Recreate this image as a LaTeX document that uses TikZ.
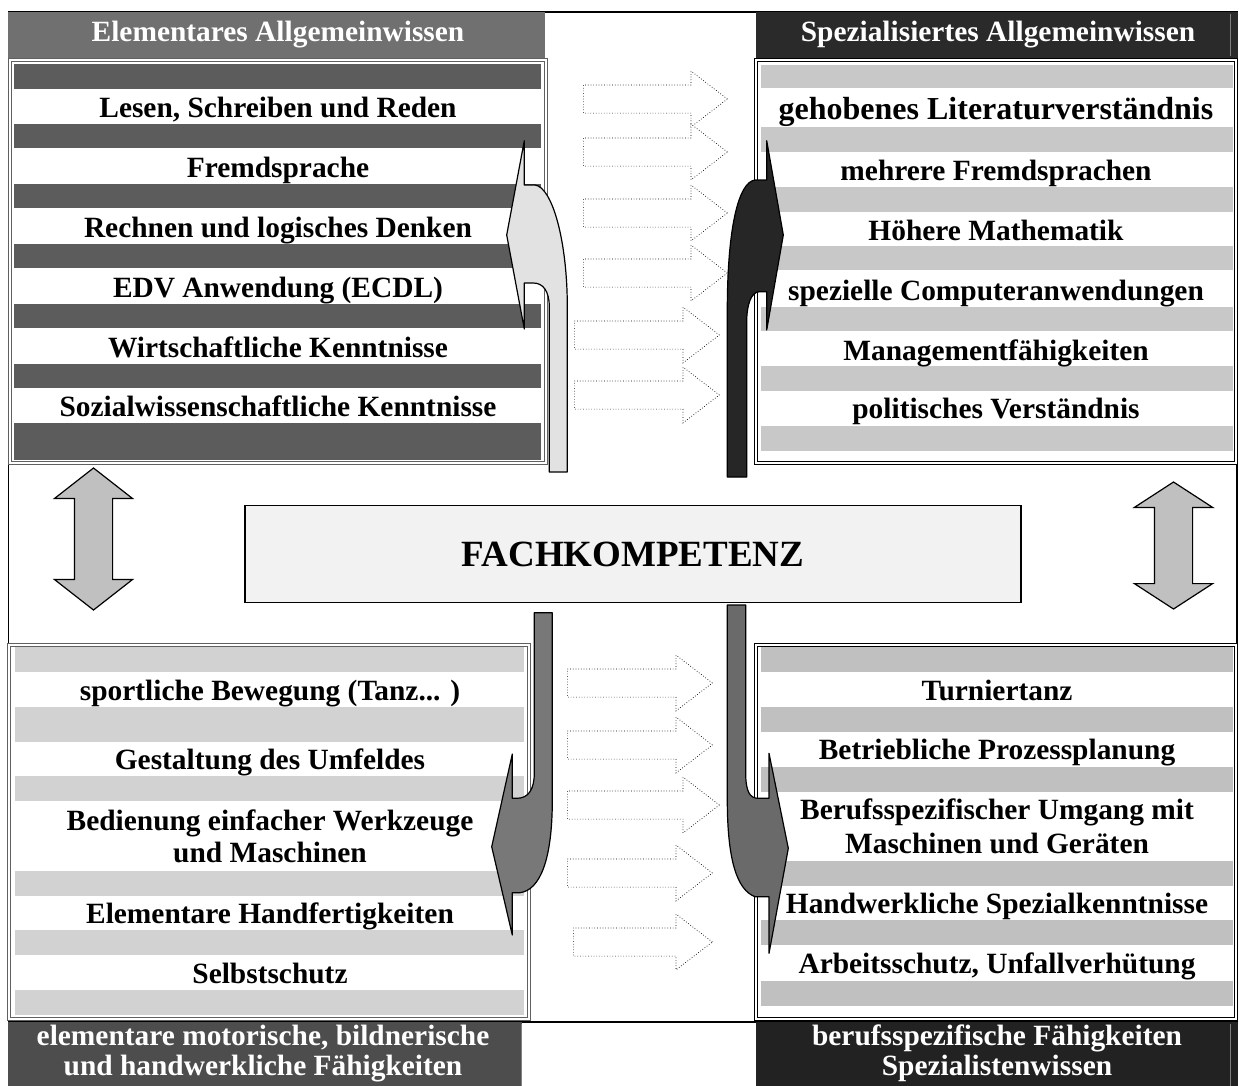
\documentclass[tikz,border=0pt]{standalone}
\usepackage{fontspec}
\setmainfont{Liberation Serif}
\usepackage{tikz}
\usetikzlibrary{shapes.arrows}

\definecolor{hdrTL}{HTML}{707070}
\definecolor{hdrTR}{HTML}{2A2A2A}
\definecolor{ftrBL}{HTML}{4D4D4D}
\definecolor{ftrBR}{HTML}{222222}
\definecolor{stripeTL}{HTML}{5C5C5C}
\definecolor{stripeTR}{HTML}{C8C8C8}
\definecolor{stripeBL}{HTML}{D2D2D2}
\definecolor{stripeBR}{HTML}{C0C0C0}
\definecolor{arrLight}{HTML}{E2E2E2}
\definecolor{arrDark}{HTML}{262626}
\definecolor{arrBL}{HTML}{787878}
\definecolor{arrBR}{HTML}{6A6A6A}
\definecolor{fkFill}{HTML}{F2F2F2}
\definecolor{udFill}{HTML}{C0C0C0}
\definecolor{boxGray}{HTML}{606060}

\begin{document}
\begin{tikzpicture}[x=1pt,y=-1pt,
    item/.style={anchor=base,font=\fontsize{29.4}{32}\selectfont\bfseries},
    head/.style={item,text=white},
    dblbox/.style={double=white,double distance=2.5pt,line width=0.9pt},
    dotarr/.style={single arrow,draw=black,dotted,line width=0.7pt,
                   fill=white,inner xsep=0pt,inner ysep=13.75pt,anchor=tail,
                   single arrow head extend=13.75pt,single arrow tip angle=75},
    updown/.style={double arrow,draw,line width=1.2pt,fill=udFill,rotate=90,
                   inner xsep=0pt,inner ysep=18.5pt,double arrow head extend=20pt},
    bentarr/.style={draw,line width=1.2pt,line join=round}]
  \useasboundingbox (0,0) rectangle (1239,1085);
  % outer frame
  \draw[line width=1.5pt] (8.5,12) rectangle (1237,1022);
  % headers and footers
  \fill[hdrTL] (8,12) rectangle (545,58);
  \node[head] (hTL) at (278,41) {Elementares Allgemeinwissen};
  \fill[hdrTR] (756,12) rectangle (1238,58);
  \draw[gray,thin] (1230,14) -- (1230,56);
  \node[head] (hTR) at (998,41) {Spezialisiertes Allgemeinwissen};
  \fill[ftrBL] (8,1022) rectangle (522,1090);
  \draw[gray,thin] (521,1024) -- (521,1090);
  \node[head] (fBL1) at (263,1045) {elementare motorische, bildnerische};
  \node[head] (fBL2) at (263,1075) {und handwerkliche Fähigkeiten};
  \fill[ftrBR] (756,1022) rectangle (1238,1090);
  \draw[gray,thin] (1230,1024) -- (1230,1090);
  \node[head] (fBR1) at (997,1045) {berufsspezifische Fähigkeiten};
  \node[head] (fBR2) at (997,1075) {Spezialistenwissen};

  % top left list
  \fill[white] (8,58) rectangle (548,465);
  \foreach \a/\b in {64/88.5,123.5/148,183.5/208,243.5/268,303.5/328,363.5/388,423/460}
    \fill[stripeTL] (14,\a) rectangle (541,\b);
  \draw[dblbox,draw=boxGray] (10,60) rectangle (546,463);
  \node[item] (tl1) at (278,117) {Lesen, Schreiben und Reden};
  \node[item] (tl2) at (278,177) {Fremdsprache};
  \node[item] (tl3) at (278,237) {Rechnen und logisches Denken};
  \node[item] (tl4) at (278,297) {EDV Anwendung (ECDL)};
  \node[item] (tl5) at (278,357) {Wirtschaftliche Kenntnisse};
  \node[item] (tl6) at (278,416) {Sozialwissenschaftliche Kenntnisse};

  % top right list
  \fill[white] (754,58) rectangle (1238,465);
  \foreach \a/\b in {65/88,127/152,187/212,246/270,307/331,366/391,426/451}
    \fill[stripeTR] (761,\a) rectangle (1233,\b);
  \draw[dblbox] (756,60) rectangle (1236,463);
  \node[item,font=\fontsize{32}{34}\selectfont\bfseries] (tr1) at (996,119.5) {gehobenes Literaturverständnis};
  \node[item] (tr2) at (996,180) {mehrere Fremdsprachen};
  \node[item] (tr3) at (996,240) {Höhere Mathematik};
  \node[item] (tr4) at (996,300) {spezielle Computeranwendungen};
  \node[item] (tr5) at (996,360) {Managementfähigkeiten};
  \node[item] (tr6) at (996,418) {politisches Verständnis};

  % bottom left list
  \fill[white] (7,643) rectangle (531,1021);
  \foreach \a/\b in {647/672,707/742,776/801,871/896,930/955,990/1015}
    \fill[stripeBL] (15,\a) rectangle (524,\b);
  \draw[dblbox,draw=boxGray] (9,645) rectangle (529,1019);
  \node[item] (bl1) at (270,700) {sportliche Bewegung (Tanz... )};
  \node[item] (bl2) at (270,769) {Gestaltung des Umfeldes};
  \node[item] (bl3) at (270,830) {Bedienung einfacher Werkzeuge};
  \node[item] (bl3b) at (270,862) {und Maschinen};
  \node[item] (bl4) at (270,923) {Elementare Handfertigkeiten};
  \node[item] (bl5) at (270,983) {Selbstschutz};

  % bottom right list
  \fill[white] (754,643) rectangle (1238,1021);
  \foreach \a/\b in {647/672,707/732,767/792,861/886,920/945,981/1006}
    \fill[stripeBR] (761,\a) rectangle (1233,\b);
  \draw[dblbox] (756,645) rectangle (1236,1019);
  \node[item] (br1) at (997,700) {Turniertanz};
  \node[item] (br2) at (997,759) {Betriebliche Prozessplanung};
  \node[item] (br3) at (997,819) {Berufsspezifischer Umgang mit};
  \node[item] (br3b) at (997,853) {Maschinen und Geräten};
  \node[item] (br4) at (997,913) {Handwerkliche Spezialkenntnisse};
  \node[item] (br5) at (997,973) {Arbeitsschutz, Unfallverhütung};

  % dotted transfer arrows
  \foreach \yy/\xx/\len [count=\i] in {99/583/144,152/583/144,213/583/144,273/583/144,335/574/145,395/574/145}
    \node[dotarr,minimum height=\len pt] (ta\i) at (\xx,\yy) {};
  \foreach \yy/\xx/\len [count=\i] in {683/567/145,745/567/145,805/567/152,873/567/145,942/573/139}
    \node[dotarr,minimum height=\len pt] (ba\i) at (\xx,\yy) {};

  % bent arrows
  \path[bentarr,fill=arrLight] (549.3,472) -- (549.3,307)
        .. controls (549.3,291) and (543,283) .. (533.3,283) -- (524.3,283)
        -- (524.3,329) -- (506.7,235) -- (524.3,140.7) -- (524.3,185) -- (535,185)
        .. controls (552,187) and (567.3,240) .. (567.3,307) -- (567.3,472) -- cycle;
  \path[bentarr,fill=arrDark] (727.3,477) -- (727.3,310)
        .. controls (727.3,230) and (738,182) .. (755,180) -- (766.7,180)
        -- (766.7,140.7) -- (783.3,235) -- (766.7,330) -- (766.7,291.7) -- (759.3,291.7)
        .. controls (751,292) and (746.7,305) .. (746.7,322) -- (746.7,477) -- cycle;
  \path[bentarr,fill=arrBL] (534.3,612.7) -- (534.3,773)
        .. controls (534.3,790) and (528,798.3) .. (516.7,798.3) -- (512.3,798.3)
        -- (512.3,754) -- (491.7,846.7) -- (512.3,935) -- (512.3,892.7) -- (520,892.7)
        .. controls (540,890) and (552.3,860) .. (552.3,800) -- (552.3,612.7) -- cycle;
  \path[bentarr,fill=arrBR] (727.3,605) -- (745.7,605) -- (745.7,773)
        .. controls (745.7,792) and (750,798.3) .. (758.3,798.3) -- (769,798.3)
        -- (769,753.3) -- (788.3,848.3) -- (769,953.3) -- (769,896.7) -- (755,896.7)
        .. controls (737,890) and (727.3,860) .. (727.3,800) -- cycle;

  % centre
  \node[draw,line width=1.5pt,fill=fkFill,minimum width=776pt,minimum height=97pt,
        font=\fontsize{37}{40}\selectfont\bfseries] (fk) at (633,554) {FACHKOMPETENZ};
  \node[updown,minimum height=142pt,double arrow tip angle=104] (udL) at (93.5,539) {};
  \node[updown,minimum height=127pt,double arrow tip angle=114] (udR) at (1173.5,545.5) {};
\end{tikzpicture}
\end{document}
